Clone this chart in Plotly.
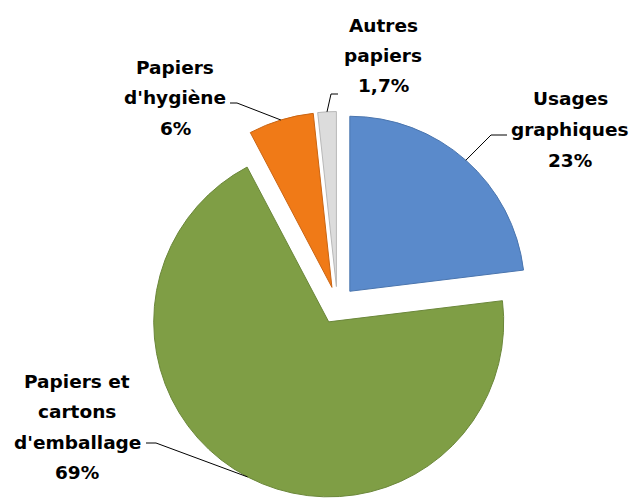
import math
import plotly.graph_objects as go

# ---- data ----
categories = ["Usages graphiques", "Papiers et cartons d'emballage", "Papiers d'hygiène", "Autres papiers"]
values = [23, 69, 6, 1.7]
colors = ["#5A8ACB", "#7F9E45", "#F07A17", "#DCDCDC"]
edge_colors = ["#4A75AE", "#6B873A", "#C96514", "#B8B8B8"]

# label wrapping (text only)
label_lines = {
    "Usages graphiques": ["Usages", "graphiques"],
    "Papiers et cartons d'emballage": ["Papiers et", "cartons", "d'emballage"],
    "Papiers d'hygiène": ["Papiers", "d'hygiène"],
    "Autres papiers": ["Autres", "papiers"],
}

# ---- layout geometry (pixels) ----
W, H = 637, 499
R = 175.0          # pie radius in px
PULL = 0.107       # explosion as fraction of radius
CX = 337.4         # centre x in px
R_ext = R * (1 + PULL)
CY = H - R_ext     # centre y in px (domain anchored at bottom)

# label block: centre x, first line y; leader elbow & end points
label_pos = {
    "Usages graphiques": dict(x=570, y=99, elbow=(491, 135), end=(507, 135)),
    "Papiers et cartons d'emballage": dict(x=77, y=381, elbow=(156, 443), end=(146, 443)),
    "Papiers d'hygiène": dict(x=175, y=67, elbow=(237, 103), end=(230, 103)),
    "Autres papiers": dict(x=383, y=25, elbow=(331, 94), end=(338, 94)),
}
LINE_H = 30.5
FONT = dict(family="DejaVu Sans", size=18.5, color="#000000", weight=700)


def px(x):
    return x / W


def py(y):
    return 1 - y / H


fig = go.Figure(go.Pie(
    labels=categories,
    values=values,
    sort=False,
    direction="clockwise",
    rotation=0,
    pull=[PULL] * len(values),
    marker=dict(colors=colors, line=dict(color=edge_colors, width=1)),
    textinfo="none",
    hoverinfo="label+percent",
    showlegend=False,
    domain=dict(x=[(CX - R_ext) / W, (CX + R_ext) / W], y=[0, 2 * R_ext / H]),
))

total = sum(values)
annotations = []
shapes = []
cum = 0.0
for name, v in zip(categories, values):
    start = cum / total * 360
    span = v / total * 360
    cum += v
    mid = math.radians(start + span / 2)
    ux, uy = math.sin(mid), -math.cos(mid)
    ax = CX + PULL * R * ux
    ay = CY + PULL * R * uy
    ex, ey = ax + R * ux, ay + R * uy   # point on the slice's arc at mid-angle

    pos = label_pos[name]
    pct = f"{v:g}".replace(".", ",") + "%"
    lines = label_lines[name] + [pct]
    for i, t in enumerate(lines):
        annotations.append(dict(
            x=px(pos["x"]), y=py(pos["y"] + i * LINE_H), xref="paper", yref="paper",
            text=t, showarrow=False, font=FONT, xanchor="center", yanchor="middle",
        ))
    (bx, by), (cx2, cy2) = pos["elbow"], pos["end"]
    path = f"M {px(ex)},{py(ey)} L {px(bx)},{py(by)} L {px(cx2)},{py(cy2)}"
    shapes.append(dict(type="path", path=path, xref="paper", yref="paper",
                       line=dict(color="#000000", width=1)))

fig.update_layout(
    width=W, height=H,
    margin=dict(l=0, r=0, t=0, b=0),
    paper_bgcolor="#FFFFFF",
    plot_bgcolor="#FFFFFF",
    annotations=annotations,
    shapes=shapes,
    separators=", ",
)

fig.write_html(
    "out.html",
    config={"displayModeBar": False},
    post_script="document.body.style.margin='0';document.body.style.overflow='hidden';",
)
